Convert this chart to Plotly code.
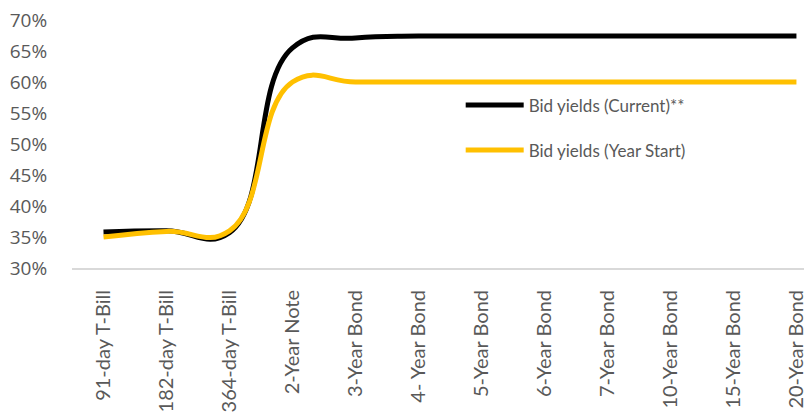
import plotly.graph_objects as go

categories = ["91-day T-Bill", "182-day T-Bill", "364-day T-Bill", "2-Year Note",
              "3-Year Bond", "4- Year Bond", "5-Year Bond", "6-Year Bond",
              "7-Year Bond", "10-Year Bond", "15-Year Bond", "20-Year Bond"]
current = [0.358, 0.360, 0.357, 0.655, 0.671, 0.674, 0.674, 0.674, 0.674, 0.674, 0.674, 0.674]
year_start = [0.350, 0.359, 0.360, 0.600, 0.600, 0.600, 0.600, 0.600, 0.600, 0.600, 0.600, 0.600]
y_ticks = [0.30, 0.35, 0.40, 0.45, 0.50, 0.55, 0.60, 0.65, 0.70]

fig = go.Figure()
fig.add_trace(go.Scatter(x=list(range(len(categories))), y=current, mode="lines",
                         name="Bid yields (Current)**", legendgroup="a",
                         line=dict(color="#000000", width=5, shape="spline", smoothing=1.3)))
fig.add_trace(go.Scatter(x=list(range(len(categories))), y=year_start, mode="lines",
                         name="Bid yields (Year Start)", legendgroup="b",
                         line=dict(color="#FFC000", width=5, shape="spline", smoothing=1.3)))

label_font = "Lato, Open Sans, sans-serif"
tick_font = "Open Sans, Liberation Sans, sans-serif"
fig.update_layout(
    width=804, height=417,
    margin=dict(l=72, r=0, t=20, b=149),
    paper_bgcolor="white", plot_bgcolor="white",
    showlegend=True,
    legend=dict(x=0.531, y=0.728, xanchor="left", yanchor="top",
                font=dict(family=label_font, size=17, color="#595959"),
                bgcolor="rgba(0,0,0,0)", traceorder="grouped", tracegroupgap=20,
                itemwidth=58),
    xaxis=dict(range=[-0.5, 11.12], tickmode="array",
               tickvals=list(range(len(categories))), ticktext=categories,
               tickangle=-90, showgrid=False, zeroline=False,
               showline=True, linecolor="#d9d9d9", linewidth=2,
               ticks="outside", ticklen=12, tickcolor="rgba(0,0,0,0)",
               tickfont=dict(family=label_font, size=20, color="#595959"),
               ticklabeloverflow="allow", automargin=False),
    yaxis=dict(range=[0.30, 0.70], tickvals=y_ticks, tickformat=".0%",
               showgrid=False, zeroline=False, showline=False,
               ticks="outside", ticklen=20, tickcolor="rgba(0,0,0,0)",
               tickfont=dict(family=tick_font, size=19, color="#595959"),
               automargin=False),
)

fig.write_html("out.html")
